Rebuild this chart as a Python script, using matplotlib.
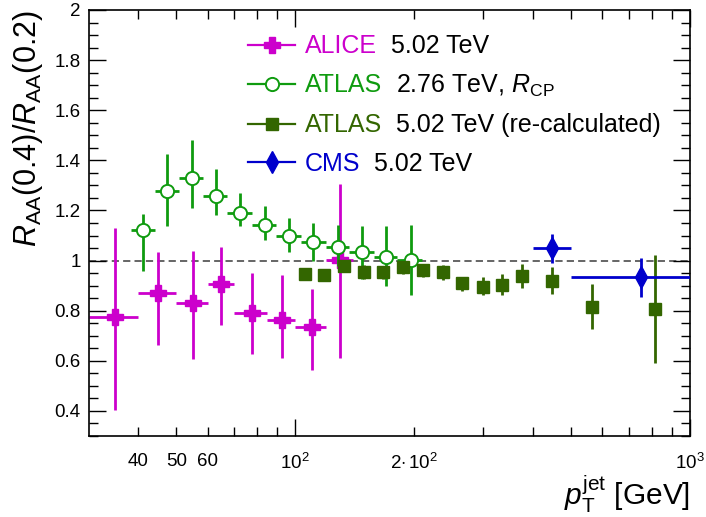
import matplotlib
matplotlib.use("Agg")
import matplotlib.pyplot as plt
import numpy as np
from matplotlib.lines import Line2D
from matplotlib.ticker import MultipleLocator, FuncFormatter
from matplotlib.offsetbox import TextArea, HPacker, VPacker, DrawingArea, AnchoredOffsetbox

plt.rcParams['font.family'] = ['Liberation Sans', 'DejaVu Sans']
plt.rcParams['mathtext.fontset'] = 'custom'
plt.rcParams['mathtext.rm'] = 'Liberation Sans'
plt.rcParams['mathtext.it'] = 'Liberation Sans:italic'
plt.rcParams['mathtext.bf'] = 'Liberation Sans:bold'

# ALICE 5.02 TeV
alice_x = [35, 45, 55, 65, 77.5, 92.5, 110, 130]
alice_xlo = [30, 40, 50, 60, 70, 85, 100, 120]
alice_xhi = [40, 50, 60, 70, 85, 100, 120, 140]
alice_y = [0.776, 0.872, 0.829, 0.905, 0.792, 0.764, 0.733, 1.003]
alice_ylo = [0.404, 0.664, 0.609, 0.744, 0.629, 0.613, 0.563, 0.613]
alice_yhi = [1.128, 1.033, 1.037, 1.056, 0.951, 0.944, 0.887, 1.307]

# ATLAS 2.76 TeV, R_CP
atl276_x = [41.1, 47.4, 54.7, 63.0, 72.4, 83.6, 96.4, 111.1, 128.0, 147.6, 169.9, 196.3]
atl276_xlo = [38.3, 44.2, 50.8, 58.4, 67.3, 77.6, 89.3, 103.4, 119.7, 137.1, 158.0, 181.0]
atl276_xhi = [44.2, 50.8, 58.4, 67.3, 77.6, 89.3, 103.4, 119.7, 137.1, 158.0, 181.0, 209.5]
atl276_y = [1.123, 1.279, 1.329, 1.257, 1.191, 1.141, 1.097, 1.073, 1.053, 1.033, 1.016, 1.003]
atl276_ylo = [0.960, 1.136, 1.209, 1.183, 1.137, 1.084, 1.033, 1.000, 0.980, 0.927, 0.900, 0.863]
atl276_yhi = [1.184, 1.427, 1.480, 1.367, 1.271, 1.217, 1.171, 1.149, 1.140, 1.136, 1.137, 1.143]

# ATLAS 5.02 TeV (re-calculated)
atl502_x = [106, 118.5, 133, 149.6, 167.2, 188, 211, 237, 265, 298.6, 335, 376, 448.5, 566, 815]
atl502_y = [0.948, 0.944, 0.977, 0.953, 0.953, 0.973, 0.964, 0.953, 0.912, 0.896, 0.904, 0.940, 0.920, 0.816, 0.808]
atl502_ylo = [0.935, 0.930, 0.962, 0.927, 0.925, 0.947, 0.936, 0.923, 0.880, 0.863, 0.863, 0.891, 0.867, 0.727, 0.593]
atl502_yhi = [0.960, 0.958, 0.990, 0.983, 0.980, 0.993, 0.987, 0.983, 0.933, 0.933, 0.947, 0.987, 0.973, 0.907, 1.023]

# CMS 5.02 TeV
cms_x = [448.5, 751]
cms_xlo = [400, 500]
cms_xhi = [500, 1000]
cms_y = [1.049, 0.933]
cms_ylo = [0.991, 0.853]
cms_yhi = [1.107, 1.011]

c_alice = '#cc00cc'
c_atl276 = '#0f9b0f'
c_atl502 = '#336600'
c_cms = '#0000cc'


def errs(v, lo, hi):
    v = np.asarray(v)
    return [v - np.asarray(lo), np.asarray(hi) - v]


fig = plt.figure(figsize=(7.06, 5.17), dpi=100)
ax = fig.add_axes([0.126, 0.1567, 0.851, 0.824])

ax.axhline(1, color='0.35', lw=1.3, ls=(0, (4, 2.3)), zorder=1)

ax.errorbar(alice_x, alice_y, xerr=errs(alice_x, alice_xlo, alice_xhi),
            yerr=errs(alice_y, alice_ylo, alice_yhi), fmt='P', color=c_alice,
            ms=11.5, elinewidth=2.0, capsize=0, zorder=2)
ax.errorbar(atl276_x, atl276_y, xerr=errs(atl276_x, atl276_xlo, atl276_xhi),
            yerr=errs(atl276_y, atl276_ylo, atl276_yhi), fmt='o', color=c_atl276,
            mfc='white', mec=c_atl276, mew=1.4, ms=9.5, elinewidth=2.0, capsize=0, zorder=3)
ax.errorbar(atl502_x, atl502_y, yerr=errs(atl502_y, atl502_ylo, atl502_yhi),
            fmt='s', color=c_atl502, ms=8.5, elinewidth=2.0, capsize=0, zorder=4)
ax.errorbar(cms_x, cms_y, xerr=errs(cms_x, cms_xlo, cms_xhi),
            yerr=errs(cms_y, cms_ylo, cms_yhi), fmt='d', color=c_cms,
            ms=11, elinewidth=2.0, capsize=0, zorder=5)

ax.set_xscale('log')
ax.set_xlim(30, 1000)
ax.set_ylim(0.3, 2.0)

ax.set_xticks([100, 1000], labels=['$10^{2}$', '$10^{3}$'])
minor_pos = [40, 50, 60, 70, 80, 90, 200, 300, 400, 500, 600, 700, 800, 900]
minor_lab = ['40', '50', '60', '', '', '', r'$2{\cdot}\,10^{2}$', '', '', '', '', '', '', '']
ax.set_xticks(minor_pos, labels=minor_lab, minor=True)

ax.yaxis.set_major_locator(MultipleLocator(0.2))
ax.yaxis.set_minor_locator(MultipleLocator(0.05))
ax.yaxis.set_major_formatter(FuncFormatter(lambda v, _: f'{v:g}'))

ax.tick_params(which='both', direction='in', top=True, right=True, width=1.0, labelsize=13.5)
ax.tick_params(which='major', length=12)
ax.tick_params(which='minor', length=6.5)
ax.tick_params(axis='x', which='both', pad=12)
ax.tick_params(axis='y', which='both', pad=6)
for s in ax.spines.values():
    s.set_linewidth(1.2)

ax.set_ylabel(r'$R_{\mathrm{AA}}$(0.4)/$R_{\mathrm{AA}}$(0.2)', fontsize=22, loc='top', labelpad=7)
ax.set_xlabel(r'$p_{\mathrm{T}}^{\mathrm{jet}}$ [GeV]', fontsize=21.5, loc='right', labelpad=1)

# legend with two-coloured labels
entries = [
    (c_alice, 'P', dict(ms=11.5), 'ALICE', '5.02 TeV'),
    (c_atl276, 'o', dict(mfc='white', mew=1.4, ms=9.5), 'ATLAS', r'2.76 TeV, $R_{\mathrm{CP}}$'),
    (c_atl502, 's', dict(ms=8.5), 'ATLAS', '5.02 TeV (re-calculated)'),
    (c_cms, 'd', dict(ms=11), 'CMS', '5.02 TeV'),
]
rows = []
for col, mk, kw, name, rest in entries:
    da = DrawingArea(34, 12, 0, 0)
    da.add_artist(Line2D([0, 34], [6, 6], color=col, lw=1.6))
    da.add_artist(Line2D([17], [6], color=col, marker=mk, **kw))
    t1 = TextArea(name, textprops=dict(color=col, fontsize=18))
    t2 = TextArea(rest, textprops=dict(color='black', fontsize=18))
    txt = HPacker(children=[t1, t2], align='baseline', pad=0, sep=10)
    rows.append(HPacker(children=[da, txt], align='baseline', pad=0, sep=7))
vp = VPacker(children=rows, align='left', pad=0, sep=10.5)
ab = AnchoredOffsetbox(loc='upper left', child=vp, pad=0, borderpad=0, frameon=False,
                       bbox_to_anchor=(0.2646, 0.944), bbox_transform=ax.transAxes)
ax.add_artist(ab)

fig.savefig('out.png', dpi=100)
